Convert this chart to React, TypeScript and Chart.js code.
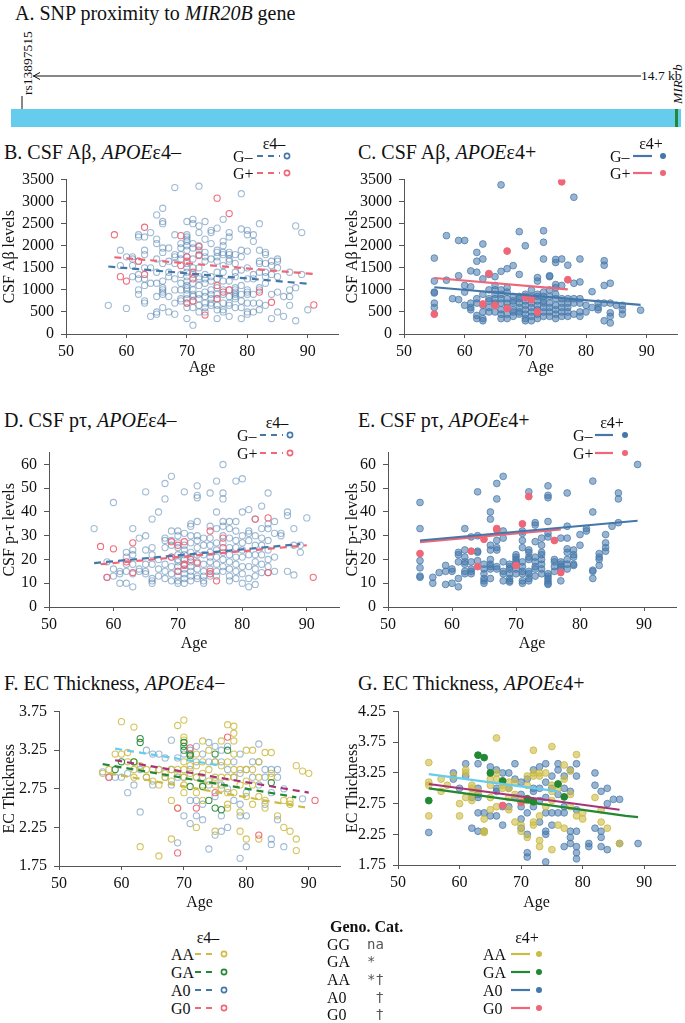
import React, { useEffect, useRef } from "react";
import { Chart, registerables } from "chart.js";
Chart.register(...registerables);

const FONT = "'Liberation Serif', 'Times New Roman', serif";
const BLUE = "#4477AA";
const RED = "#EE6677";
const GREEN = "#228833";
const YELLOW = "#CCBB44";
const CYAN = "#66CCEE";
const PURPLE = "#AA3377";

// ---------- data: rows are [age, value, value, ...] ----------
const abNegGminus: number[][] = [
  [57, 650], [59, 1900, 1550], [60, 580, 1750], [61, 1700, 1300, 1750, 1550],
  [62, 2250, 2200, 1650, 1350, 1000, 900, 1250], [63, 2200, 1900, 1800, 1500, 750, 700, 1100, 1250],
  [64, 2300, 1150, 400, 1500], [65, 2700, 2150, 2050, 1700, 1400, 1150, 850, 500, 450],
  [66, 2850, 2550, 2500, 1950, 1850, 1600, 1200, 1000, 900, 950, 1050, 600],
  [67, 1950, 1650, 1400, 1300, 850, 500], [68, 3320, 2250, 1800, 1750, 1600, 1250, 1000, 700, 450],
  [69, 2050, 1950, 1800, 1700, 1350, 1000, 800, 750, 1150],
  [70, 2550, 2250, 2200, 2150, 2100, 2000, 1900, 1750, 1600, 1500, 1400, 1300, 1200, 1100, 1050, 1000, 900, 800, 700, 600, 350],
  [71, 2600, 2500, 2050, 1950, 1700, 1500, 1350, 1150, 1000, 900, 850, 750, 600, 200],
  [72, 3350, 2450, 2300, 2000, 1900, 1800, 1500, 1300, 1250, 1100, 900, 800, 650, 500],
  [73, 2550, 2150, 1850, 1750, 1650, 1350, 1250, 1150, 950, 850, 700, 600, 500],
  [74, 2350, 2300, 2050, 1700, 1300, 1200, 1000, 900, 800, 700, 650],
  [75, 2400, 1900, 1850, 1750, 1650, 1400, 1250, 1050, 900, 800, 650, 550, 350],
  [76, 2600, 2100, 2000, 1850, 1800, 1550, 1400, 1200, 1000, 900, 700, 550, 500],
  [77, 2300, 2200, 1850, 1800, 1700, 1650, 1200, 1000, 850, 700, 650, 400],
  [78, 1800, 1600, 1400, 1300, 1050, 1000, 950, 900, 850, 800, 600],
  [79, 3180, 2380, 1900, 1750, 1450, 1100, 900, 750, 600, 350],
  [80, 2350, 2250, 1880, 1500, 1250, 1000, 950, 900, 700, 500, 450],
  [81, 2250, 2100, 1350, 1250, 900, 700, 500], [82, 2500, 1900, 1650, 1600, 1400, 1050, 1000, 700, 550],
  [83, 1850, 1800, 1600, 1400, 1300, 1150, 650], [84, 1650, 1550, 1350, 900, 350],
  [85, 1700, 1650, 1500, 1300, 950, 500], [86, 850, 400], [87, 1400, 1000, 850, 650],
  [88, 2450, 1050, 300], [89, 2300, 1350], [90, 550],
];
const abNegGplus: number[][] = [
  [58, 2250], [59, 1300], [60, 1200], [62, 1650], [63, 2420, 1350], [69, 2230, 1550],
  [70, 1750, 1650, 700], [71, 1400, 1250, 750], [72, 1980, 1780], [73, 430],
  [75, 3080, 1100, 800], [76, 950], [77, 2730, 1000], [82, 950], [84, 720], [91, 660],
];
const abPosGminus: number[][] = [
  [55, 1720, 1200, 950, 930, 700, 600], [57, 2230, 1220], [58, 800], [59, 2120, 1320, 780],
  [60, 2120, 1100, 950, 650], [61, 1430, 1070, 700, 550, 600], [62, 1850, 1650, 1400, 800, 700, 420, 350],
  [63, 2040, 1700, 1250, 900, 650, 500, 350, 300], [64, 1350, 1000, 800, 750, 600, 500],
  [65, 1300, 1100, 1000, 900, 800, 700, 650, 500], [66, 3380, 1420, 1000, 900, 800, 700, 550, 450, 350],
  [67, 1480, 1050, 950, 800, 700, 600, 450, 350], [68, 1550, 850, 750, 700, 550, 500, 400],
  [69, 2320, 1350, 850, 800, 700, 600, 500, 450], [70, 2000, 900, 850, 750, 650, 550, 450, 350, 300],
  [71, 1000, 850, 700, 600, 500, 400, 300], [72, 1280, 1200, 900, 850, 750, 650, 550, 450, 350],
  [73, 2340, 2080, 1700, 950, 850, 750, 700, 600, 500, 400], [74, 1320, 1300, 1000, 850, 700, 600, 500, 400],
  [75, 1690, 1620, 1120, 1050, 900, 800, 650, 550, 450, 350], [76, 1700, 1100, 800, 700, 600, 500, 400],
  [77, 1560, 800, 700, 600, 500, 400], [78, 3100, 1150, 800, 700, 450], [79, 1700, 1180, 800, 700, 500, 400],
  [80, 650, 500], [81, 960, 600], [82, 700, 600, 550], [83, 1660, 1560, 1100, 700, 300],
  [84, 1150, 700, 480, 400, 250], [85, 650], [86, 650, 550, 450], [89, 540],
];
const abPosGplus: number[][] = [
  [55, 450], [63, 680], [64, 1370], [65, 650], [67, 1880, 580], [70, 830], [71, 780], [72, 500], [76, 3450], [77, 1230],
];
const ptNegGminus: number[][] = [
  [57, 33], [59, 19, 12.5], [60, 44, 16, 13], [61, 15, 14, 10], [62, 23, 21, 18, 15, 10],
  [63, 33, 24, 22, 18, 14, 8.5], [64, 29, 16, 15], [65, 48.5, 30, 24, 18, 15, 14],
  [66, 37, 25, 22, 18, 12, 11, 10], [67, 40, 20, 16, 13], [68, 52, 45.5, 29, 28, 25, 18, 15, 12],
  [69, 55, 32, 28, 26, 21, 17, 14, 11], [70, 32, 30, 27, 25, 22, 20, 19, 17, 15, 13, 11, 10],
  [71, 48.5, 31, 26, 24, 22, 20, 18, 16, 14, 12, 10], [72, 35, 34, 30, 27, 23, 21, 19, 17, 15, 13, 11],
  [73, 51, 47, 46, 36, 30, 28, 25, 22, 19, 16, 13, 12], [74, 29, 26, 22, 18, 15, 13, 11, 10],
  [75, 48, 34, 29, 26, 23, 21, 19, 16, 13], [76, 53, 40, 33, 27, 24, 21, 18, 15, 13],
  [77, 60, 48, 45.5, 36, 34, 30, 27, 23, 20, 17, 15], [78, 36, 33, 29, 25, 22, 19, 16, 13, 11],
  [79, 53, 36, 32, 28, 25, 21, 18, 15, 12], [80, 54, 40, 30, 27, 24, 21, 17, 14, 10],
  [81, 41, 32, 31, 28, 22, 17, 12, 8.5], [82, 37, 30, 26, 22, 19, 16, 13, 9.5],
  [83, 42.5, 33, 29, 26, 22, 18, 14.5], [84, 48, 35, 33, 28, 24, 20, 17, 14.5], [85, 36, 31, 21, 15],
  [86, 31, 30], [87, 40, 38.5, 15], [88, 33, 26, 13.5], [89, 26, 23], [90, 37.5],
];
const ptNegGplus: number[][] = [
  [58, 25.5], [59, 12.5], [60, 24.5], [62, 19], [63, 27, 14.5], [69, 27.5, 21], [70, 26, 15],
  [71, 27.5, 18, 17.5], [72, 20], [73, 18.5], [75, 32, 15, 14], [76, 11], [77, 29, 25], [82, 37],
  [84, 37.5, 14.5], [91, 12.5],
];
const ptPosGminus: number[][] = [
  [55, 44, 33, 19.5, 16.5, 13, 12.5], [57, 12.5, 10], [58, 14.5], [59, 17.5, 15, 9.5], [60, 16, 15, 10],
  [61, 23, 22, 19, 12, 8.5], [62, 33, 24, 21, 19, 18, 15, 14], [63, 29.5, 19, 16, 15, 14],
  [64, 48.5, 30, 23.5, 23, 19.5], [65, 18, 16, 14, 12, 11, 10], [66, 40, 37, 26, 24, 20, 18, 17, 16, 12],
  [67, 52, 45.5, 28, 25, 24, 17, 16], [68, 55, 32, 29, 19, 15, 14, 11], [69, 18, 17, 16, 14, 12, 11, 10.5],
  [70, 22, 21, 20, 19, 18, 16, 14], [71, 32, 31, 28, 25, 19, 17, 15, 14, 11, 10],
  [72, 48.5, 24, 23, 21, 20, 15, 14, 12, 11], [73, 35.5, 34.5, 27.5, 21, 19, 17, 16, 13],
  [74, 29, 26, 23, 22, 20, 18, 16, 14], [75, 51, 47, 46, 36, 31, 29.5, 14, 13, 12, 11, 10, 9.5],
  [76, 20, 19, 17, 15], [77, 29, 19, 18, 17, 16, 11], [78, 48, 34, 29, 24.5, 23, 20, 18, 16],
  [79, 24, 22, 21, 18, 17.5], [80, 30.5, 26], [81, 33, 32], [82, 53, 40, 15.5, 15, 12],
  [83, 22.5, 21, 20, 17.5], [84, 30.5, 27, 25, 23.5], [85, 34], [86, 48, 45.5, 35.5], [89, 60],
];
const ptPosGplus: number[][] = [
  [55, 22.5], [63, 23.5], [64, 17], [65, 28.5], [67, 33, 32.5], [70, 17.5], [71, 35], [72, 46.5], [76, 28], [77, 14.5],
];
const ecNegAA: number[][] = [
  [57, 2.95], [58, 3.0], [59, 3.2], [60, 3.62, 3.2], [61, 3.22, 3.1], [62, 3.55, 3.1, 3.0, 2.9], [63, 3.05, 2.0],
  [64, 3.0, 2.9], [65, 3.0, 2.85], [66, 3.0, 2.8, 1.88], [67, 2.9, 2.95], [68, 3.0, 2.85, 2.6, 2.1],
  [69, 3.57, 2.95, 3.0, 2.5], [70, 3.64, 3.42, 3.38, 3.1, 3.0, 2.9, 2.8, 2.7], [71, 3.15, 3.05, 2.95],
  [72, 3.2, 3.05, 2.9, 2.7, 2.25], [73, 3.37, 3.1, 2.95, 2.8, 2.6], [74, 3.25, 3.0, 2.85],
  [75, 3.1, 2.9, 2.8, 2.2], [76, 3.37, 3.05, 2.9, 2.75], [77, 3.58, 3.1, 2.9, 2.7, 2.55, 2.5],
  [78, 3.56, 3.47, 3.37, 3.2, 3.0, 2.9, 2.7], [79, 3.0, 2.8, 2.45, 2.2], [80, 3.25, 3.0, 2.85, 2.65, 2.1],
  [81, 3.25, 3.0, 2.8, 2.55], [82, 3.1, 2.9, 2.65, 2.1], [83, 3.22, 2.6, 2.5], [84, 3.22, 2.95, 2.9],
  [85, 2.4], [86, 2.6, 2.25], [87, 2.6, 2.55, 2.2], [88, 3.05, 2.1, 1.95], [89, 2.98], [90, 2.95],
];
const ecNegGA: number[][] = [
  [59, 3.0], [60, 3.1], [62, 3.1], [63, 3.4, 3.35], [70, 3.35, 3.3, 3.25], [71, 3.2, 3.18, 2.78],
  [73, 2.78], [74, 2.6], [75, 3.2, 2.5], [76, 2.48], [77, 3.25], [84, 2.83],
];
const ecNegA0: number[][] = [
  [57, 2.97], [58, 2.9], [59, 2.9], [60, 2.9], [61, 2.7, 2.95], [62, 2.8], [63, 2.45, 3.0], [64, 3.25, 2.9],
  [65, 3.2, 2.8], [66, 3.2, 3.0], [67, 3.15, 2.9], [68, 3.38, 3.0, 2.8], [69, 3.15, 2.9, 2.05],
  [70, 3.2, 2.9, 2.4], [71, 3.25, 3.0, 2.6, 2.3], [72, 3.3, 3.1, 2.9, 2.6, 2.4], [73, 3.2, 2.9, 2.55, 2.35],
  [74, 3.35, 3.1, 2.8, 1.97], [75, 3.3, 3.1, 2.85, 2.65, 2.15], [76, 3.25, 3.1, 2.8, 2.4, 2.2],
  [77, 3.3, 3.0, 2.75, 2.25], [78, 3.1, 2.9, 2.6], [79, 3.2, 2.95, 2.55, 2.4, 1.85], [80, 3.0, 2.7, 2.4, 2.0],
  [81, 3.1, 2.9], [82, 3.33, 3.1, 2.8], [83, 3.0, 2.9, 2.55], [84, 3.0, 2.7, 2.1, 2.03],
  [85, 3.0, 2.9, 2.35], [86, 2.75, 2.0], [89, 2.62],
];
const ecNegG0: number[][] = [
  [58, 2.9], [69, 2.5, 1.92], [71, 3.28], [72, 2.5], [75, 2.7], [77, 3.42], [82, 2.15], [91, 2.6],
];
const ecPosA0: number[][] = [
  [55, 2.28], [59, 3.25, 3.15], [60, 3.0], [61, 3.4, 3.2], [62, 2.85, 2.35], [63, 3.4, 3.0, 2.9, 2.85, 2.6, 2.3],
  [64, 2.6, 2.3], [65, 3.35, 2.55], [66, 3.3, 3.0, 2.95, 2.55], [67, 3.25, 2.7, 2.4], [68, 3.25, 3.0, 2.7],
  [69, 3.4, 3.15, 2.85], [70, 3.1, 2.9, 2.7, 2.5, 2.35], [71, 3.15, 2.6, 2.25, 1.95, 1.88],
  [72, 3.3, 3.0, 2.95, 2.7], [73, 3.35, 3.0, 2.8, 2.45], [74, 3.4, 3.1, 2.85, 2.6, 2.3, 2.25, 1.8],
  [75, 3.2, 3.0, 2.6, 2.4], [76, 3.4, 3.3, 2.9, 2.6], [77, 3.2, 3.0, 2.7, 2.6, 2.05],
  [78, 3.3, 2.95, 2.3, 2.2, 2.1], [79, 3.4, 3.2, 2.65, 2.3, 2.05, 1.95, 1.85], [81, 2.1, 2.05],
  [82, 3.25, 3.05, 2.35], [83, 2.95, 2.3, 2.2, 2.05], [84, 3.0, 2.75, 2.0], [85, 2.82], [86, 2.82, 2.1], [89, 2.1],
];
const ecPosAA: number[][] = [
  [55, 3.42, 3.1, 3.05, 2.55], [57, 3.15, 2.95], [58, 3.05], [59, 3.2], [60, 2.75, 2.55], [61, 3.3, 3.25, 2.85],
  [62, 3.05, 3.0, 2.9, 2.8], [63, 2.95], [64, 2.5, 2.3, 2.28], [65, 3.15, 3.05, 2.85, 2.65],
  [66, 3.82, 3.25, 3.15, 2.7], [67, 3.1, 3.05, 3.0], [68, 3.1, 3.0, 2.85, 2.65], [69, 3.1, 2.9, 2.45],
  [70, 2.8, 2.4, 2.3], [71, 3.2, 3.05, 2.8, 2.2], [72, 3.62, 3.25, 3.2, 2.45, 2.4], [73, 3.25, 3.2, 2.55, 2.15, 2.05],
  [74, 3.25, 2.7], [75, 3.68, 3.05, 2.95, 2.8, 2.0], [76, 3.0, 2.4], [77, 3.38, 3.15, 2.35], [78, 3.28, 2.9, 2.7],
  [79, 3.55, 2.55], [80, 2.6, 2.5], [82, 2.85], [83, 2.65, 2.45], [84, 2.35], [86, 2.1],
];
const ecPosGA: number[][] = [
  [55, 2.8], [63, 3.54], [64, 3.5], [65, 3.25], [67, 3.12], [71, 2.83], [72, 2.78], [76, 3.07], [77, 2.86],
];
const ecPosG0: number[][] = [[67, 2.72], [70, 2.77]];

// fitted lines: [age, value] endpoints
const fitAbNegGminus = [[57, 1530], [90, 1140]];
const fitAbNegGplus = [[58, 1740], [91, 1360]];
const fitAbPosGminus = [[55, 1060], [89, 660]];
const fitAbPosGplus = [[55, 1270], [77, 1010]];
const fitPtNegGminus = [[57, 18.5], [89, 26.5]];
const fitPtNegGplus = [[58, 18], [90, 26]];
const fitPtPosGminus = [[55, 28], [89, 36.3]];
const fitPtPosGplus = [[55, 27.3], [77, 32.7]];
const fitEcNegCyan = [[59, 3.27], [76, 3.05]];
const fitEcNegPurple = [[59, 3.12], [90, 2.7]];
const fitEcNegGreen = [[57, 3.07], [88, 2.64]];
const fitEcNegYellow = [[58, 2.95], [90, 2.5]];
const fitEcPosCyan = [[55, 3.23], [76, 2.95]];
const fitEcPosPurple = [[55, 3.07], [86, 2.65]];
const fitEcPosGreen = [[55, 3.0], [87, 2.55], [89, 2.53]];

const ageTicks = [50, 60, 70, 80, 90];

// ---------- helpers ----------
const rowsToPts = (rows: number[][]) => rows.flatMap((r) => r.slice(1).map((v) => ({ x: r[0], y: v })));
const pairsToPts = (pairs: number[][]) => pairs.map((p) => ({ x: p[0], y: p[1] }));

const openPts = (rows: number[][], color: string, order = 2) => ({
  data: rowsToPts(rows), showLine: false, pointRadius: 3.1, pointBorderWidth: 1.1,
  backgroundColor: "rgba(0,0,0,0)", borderColor: color, order,
});
const fillPts = (rows: number[][], fill: string, border: string, order = 2) => ({
  data: rowsToPts(rows), showLine: false, pointRadius: 3.4, pointBorderWidth: 1,
  backgroundColor: fill, borderColor: border, order,
});
const fitLine = (pairs: number[][], color: string, dashed: boolean) => ({
  data: pairsToPts(pairs), showLine: true, pointRadius: 0, borderColor: color, backgroundColor: color,
  borderWidth: 2.2, borderDash: dashed ? [7, 5] : [], fill: false, tension: 0, order: 0,
});

const BLUE_OPEN = "rgba(68,119,170,0.5)";
const BLUE_FILL = "rgba(68,119,170,0.55)";
const BLUE_EDGE = "rgba(68,119,170,0.7)";

interface Spec {
  cl: number; L: number; T: number; R: number; B: number; xTitleY: number;
  yMin: number; yMax: number; yStep: number; yTitle: string; dec: number; datasets: any[];
}

const PAD_TOP = 12;
const PAD_RIGHT = 6;

function Panel({ s }: { s: Spec }) {
  const ref = useRef<HTMLCanvasElement>(null);
  const top = s.T - PAD_TOP;
  const xh = Math.round(s.xTitleY + 9.6 - s.B);
  const w = s.R + PAD_RIGHT - s.cl;
  const h = s.B - top + xh;
  useEffect(() => {
    const chart = new Chart(ref.current as HTMLCanvasElement, {
      type: "scatter",
      data: { datasets: s.datasets },
      options: {
        animation: false,
        responsive: false,
        events: [],
        layout: { padding: { top: PAD_TOP, right: PAD_RIGHT, left: 0, bottom: 0 } },
        plugins: { legend: { display: false }, tooltip: { enabled: false } },
        scales: {
          x: {
            type: "linear", min: 50, max: 95,
            afterFit: (sc: any) => { sc.height = xh; },
            afterBuildTicks: (sc: any) => { sc.ticks = ageTicks.map((v) => ({ value: v })); },
            ticks: { stepSize: 10, includeBounds: false, autoSkip: false, color: "#111", padding: 4, maxRotation: 0,
              font: { family: FONT, size: 16 }, callback: (v: any) => String(v) },
            grid: { display: true, drawOnChartArea: false, drawTicks: true, tickLength: 4, color: "#555" },
            border: { display: true, color: "#555", width: 1 },
            title: { display: true, text: "Age", color: "#111", font: { family: FONT, size: 16 }, padding: 0 },
          },
          y: {
            type: "linear", min: s.yMin, max: s.yMax,
            afterFit: (sc: any) => { sc.width = s.L - s.cl; },
            ticks: { stepSize: s.yStep, includeBounds: false, autoSkip: false, color: "#111", padding: 7,
              font: { family: FONT, size: 16 }, callback: (v: any) => Number(v).toFixed(s.dec) },
            grid: { display: true, drawOnChartArea: false, drawTicks: true, tickLength: 5, color: "#555" },
            border: { display: true, color: "#555", width: 1 },
            title: { display: true, text: s.yTitle, color: "#111", font: { family: FONT, size: 16 }, padding: 0 },
          },
        },
      } as any,
    });
    return () => chart.destroy();
  }, []);
  return (
    <canvas ref={ref} width={w} height={h}
      style={{ position: "absolute", left: s.cl, top, width: w, height: h }} />
  );
}

// ---------- text & legend helpers ----------
function Txt({ x, cy, size = 16, children, center, style }: any) {
  const lh = Math.round(size * 1.2);
  return (
    <div style={{
      position: "absolute", left: x, top: cy - lh / 2, lineHeight: lh + "px", fontSize: size,
      fontFamily: FONT, whiteSpace: "nowrap", color: "#111",
      transform: center ? "translateX(-50%)" : undefined, ...style,
    }}>{children}</div>
  );
}

// text rotated to read bottom-to-top; (cx, bottom) = centre line x and lower end
function VTxt({ cx, bottom, size, children, style }: any) {
  const lh = Math.round(size * 1.1);
  return (
    <div style={{
      position: "absolute", left: cx - lh / 2, top: bottom, lineHeight: lh + "px", height: lh,
      fontSize: size, fontFamily: FONT, whiteSpace: "nowrap", color: "#111",
      transformOrigin: "0 0", transform: "rotate(-90deg)", ...style,
    }}>{children}</div>
  );
}

function Sample({ x1, x2, cx, cy, color, dashed, filled }: any) {
  const left = x1 - 2;
  const w = cx + 6 - left;
  return (
    <svg style={{ position: "absolute", left, top: cy - 6 }} width={w} height={12}>
      <line x1={x1 - left} y1={6} x2={x2 - left} y2={6} stroke={color} strokeWidth={2.2}
        strokeDasharray={dashed ? "6 5" : undefined} />
      {filled
        ? <circle cx={cx - left} cy={6} r={3} fill={color} />
        : <circle cx={cx - left} cy={6} r={2.6} fill="none" stroke={color} strokeWidth={1.6} />}
    </svg>
  );
}

function Title({ x, cy, letter, what, sign }: any) {
  return (
    <Txt x={x} cy={cy} size={20}>
      {letter}. {what}, <i>APOE</i>ε4{sign}
    </Txt>
  );
}

function GLegend({ gx, lx1, lx2, cx, headX, headY, rowY, sign, dashed, filled }: any) {
  return (
    <>
      <Txt x={headX} cy={headY} center>ε4{sign}</Txt>
      <Txt x={gx} cy={rowY[0]}>G–</Txt>
      <Sample x1={lx1} x2={lx2} cx={cx} cy={rowY[0]} color={BLUE} dashed={dashed} filled={filled} />
      <Txt x={gx} cy={rowY[1]}>G+</Txt>
      <Sample x1={lx1} x2={lx2} cx={cx} cy={rowY[1]} color={RED} dashed={dashed} filled={filled} />
    </>
  );
}

const genoLabels = ["AA", "GA", "A0", "G0"];
const genoColors = [YELLOW, GREEN, BLUE, RED];
const catGenos = ["GG", "GA", "AA", "A0", "G0"];
const catMarks = ["na", "*", "*†", " †", " †"];

export default function App() {
  const specs: Spec[] = [
    {
      cl: 0, L: 66, T: 175, R: 338, B: 334, xTitleY: 367, yMin: 0, yMax: 3500, yStep: 500,
      yTitle: "CSF Aβ levels", dec: 0,
      datasets: [
        fitLine(fitAbNegGminus, BLUE, true), fitLine(fitAbNegGplus, RED, true),
        openPts(abNegGplus, "rgba(238,102,119,0.95)", 1), openPts(abNegGminus, BLUE_OPEN, 2),
      ],
    },
    {
      cl: 343, L: 404, T: 175, R: 677, B: 334, xTitleY: 367, yMin: 0, yMax: 3500, yStep: 500,
      yTitle: "CSF Aβ levels", dec: 0,
      datasets: [
        fitLine(fitAbPosGminus, BLUE, false), fitLine(fitAbPosGplus, RED, false),
        fillPts(abPosGplus, RED, RED, 1), fillPts(abPosGminus, BLUE_FILL, BLUE_EDGE, 2),
      ],
    },
    {
      cl: 0, L: 49, T: 448, R: 339, B: 607, xTitleY: 643, yMin: 0, yMax: 65, yStep: 10,
      yTitle: "CSF p-τ levels", dec: 0,
      datasets: [
        fitLine(fitPtNegGminus, BLUE, true), fitLine(fitPtNegGplus, RED, true),
        openPts(ptNegGplus, "rgba(238,102,119,0.95)", 1), openPts(ptNegGminus, BLUE_OPEN, 2),
      ],
    },
    {
      cl: 343, L: 388, T: 448, R: 676, B: 607, xTitleY: 643, yMin: 0, yMax: 65, yStep: 10,
      yTitle: "CSF p-τ levels", dec: 0,
      datasets: [
        fitLine(fitPtPosGminus, BLUE, false), fitLine(fitPtPosGplus, RED, false),
        fillPts(ptPosGplus, RED, RED, 1), fillPts(ptPosGminus, BLUE_FILL, BLUE_EDGE, 2),
      ],
    },
    {
      cl: 0, L: 59, T: 707, R: 340, B: 866, xTitleY: 902, yMin: 1.75, yMax: 3.75, yStep: 0.5,
      yTitle: "EC Thickness", dec: 2,
      datasets: [
        fitLine(fitEcNegCyan, CYAN, true), fitLine(fitEcNegPurple, PURPLE, true),
        fitLine(fitEcNegGreen, GREEN, true), fitLine(fitEcNegYellow, YELLOW, true),
        openPts(ecNegG0, "rgba(238,102,119,0.95)", 1), openPts(ecNegGA, "rgba(34,136,51,0.9)", 1),
        openPts(ecNegAA, "rgba(204,187,68,0.85)", 2), openPts(ecNegA0, BLUE_OPEN, 3),
      ],
    },
    {
      cl: 343, L: 398, T: 707, R: 675, B: 865, xTitleY: 902, yMin: 1.75, yMax: 4.25, yStep: 0.5,
      yTitle: "EC Thickness", dec: 2,
      datasets: [
        fitLine(fitEcPosCyan, CYAN, false), fitLine(fitEcPosPurple, PURPLE, false),
        fitLine(fitEcPosGreen, GREEN, false),
        fillPts(ecPosG0, RED, RED, 1), fillPts(ecPosGA, GREEN, GREEN, 1),
        fillPts(ecPosAA, "rgba(204,187,68,0.6)", "rgba(204,187,68,0.85)", 2),
        fillPts(ecPosA0, BLUE_FILL, BLUE_EDGE, 3),
      ],
    },
  ];
  const legRows = [954, 972, 990, 1008];
  const catRows = [944, 961, 979, 997, 1014];
  return (
    <div style={{ position: "absolute", left: 0, top: 0, width: 685, height: 1023, overflow: "hidden", background: "#fff", fontFamily: FONT }}>
      {/* Panel A */}
      <Txt x={15} cy={13} size={20}>A. SNP proximity to <i>MIR20B</i> gene</Txt>
      <div style={{ position: "absolute", left: 11, top: 109, width: 670, height: 18, background: CYAN }} />
      <div style={{ position: "absolute", left: 675, top: 109, width: 3, height: 18, background: GREEN }} />
      <svg style={{ position: "absolute", left: 0, top: 60 }} width={685} height={50}>
        <line x1={33} y1={16} x2={641} y2={16} stroke="#111" strokeWidth={1} />
        <polyline points="40,12.5 33.5,16 40,19.5" fill="none" stroke="#111" strokeWidth={1} />
        <line x1={22} y1={36} x2={22} y2={49} stroke="#111" strokeWidth={1} />
      </svg>
      <VTxt cx={27} bottom={95} size={13.5}>rs13897515</VTxt>
      <Txt x={641} cy={76} size={13.5}>14.7 kb</Txt>
      <VTxt cx={677} bottom={104} size={13.5} style={{ fontStyle: "italic" }}>
        MIR<span style={{ marginLeft: 9 }}>b</span>
      </VTxt>

      {/* titles */}
      <Title x={4} cy={152} letter="B" what="CSF Aβ" sign="–" />
      <Title x={358} cy={152} letter="C" what="CSF Aβ" sign="+" />
      <Title x={4} cy={420} letter="D" what="CSF pτ" sign="–" />
      <Title x={358} cy={420} letter="E" what="CSF pτ" sign="+" />
      <Title x={4} cy={683} letter="F" what="EC Thickness" sign="−" />
      <Title x={358} cy={683} letter="G" what="EC Thickness" sign="+" />

      {specs.map((s, i) => <Panel key={i} s={s} />)}

      {/* panel legends */}
      <GLegend gx={233} lx1={257} lx2={280} cx={287} headX={274} headY={143} rowY={[156, 173]} sign="–" dashed />
      <GLegend gx={610} lx1={633} lx2={652} cx={663} headX={651} headY={143} rowY={[156, 173]} sign="+" filled />
      <GLegend gx={237} lx1={260} lx2={283} cx={290} headX={277} headY={422} rowY={[435, 453]} sign="–" dashed />
      <GLegend gx={573} lx1={595} lx2={613} cx={625} headX={612} headY={422} rowY={[435, 453]} sign="+" filled />

      {/* bottom legend */}
      <Txt x={208} cy={937} center>ε4–</Txt>
      {genoLabels.map((g, i) => (
        <React.Fragment key={"l" + g}>
          <Txt x={171} cy={legRows[i]}>{g}</Txt>
          <Sample x1={195} x2={214} cx={224} cy={legRows[i]} color={genoColors[i]} dashed />
        </React.Fragment>
      ))}
      <Txt x={330} cy={926} style={{ fontWeight: "bold" }}>Geno. Cat.</Txt>
      {catGenos.map((g, i) => (
        <React.Fragment key={"c" + g}>
          <Txt x={327} cy={catRows[i]}>{g}</Txt>
          <Txt x={367} cy={catRows[i]} size={14} style={{ fontFamily: "'DejaVu Sans Mono', monospace", color: "#555", whiteSpace: "pre" }}>{catMarks[i]}</Txt>
        </React.Fragment>
      ))}
      <Txt x={527} cy={937} center>ε4+</Txt>
      {genoLabels.map((g, i) => (
        <React.Fragment key={"r" + g}>
          <Txt x={483} cy={legRows[i]}>{g}</Txt>
          <Sample x1={511} x2={530} cx={539} cy={legRows[i]} color={genoColors[i]} filled />
        </React.Fragment>
      ))}
    </div>
  );
}
